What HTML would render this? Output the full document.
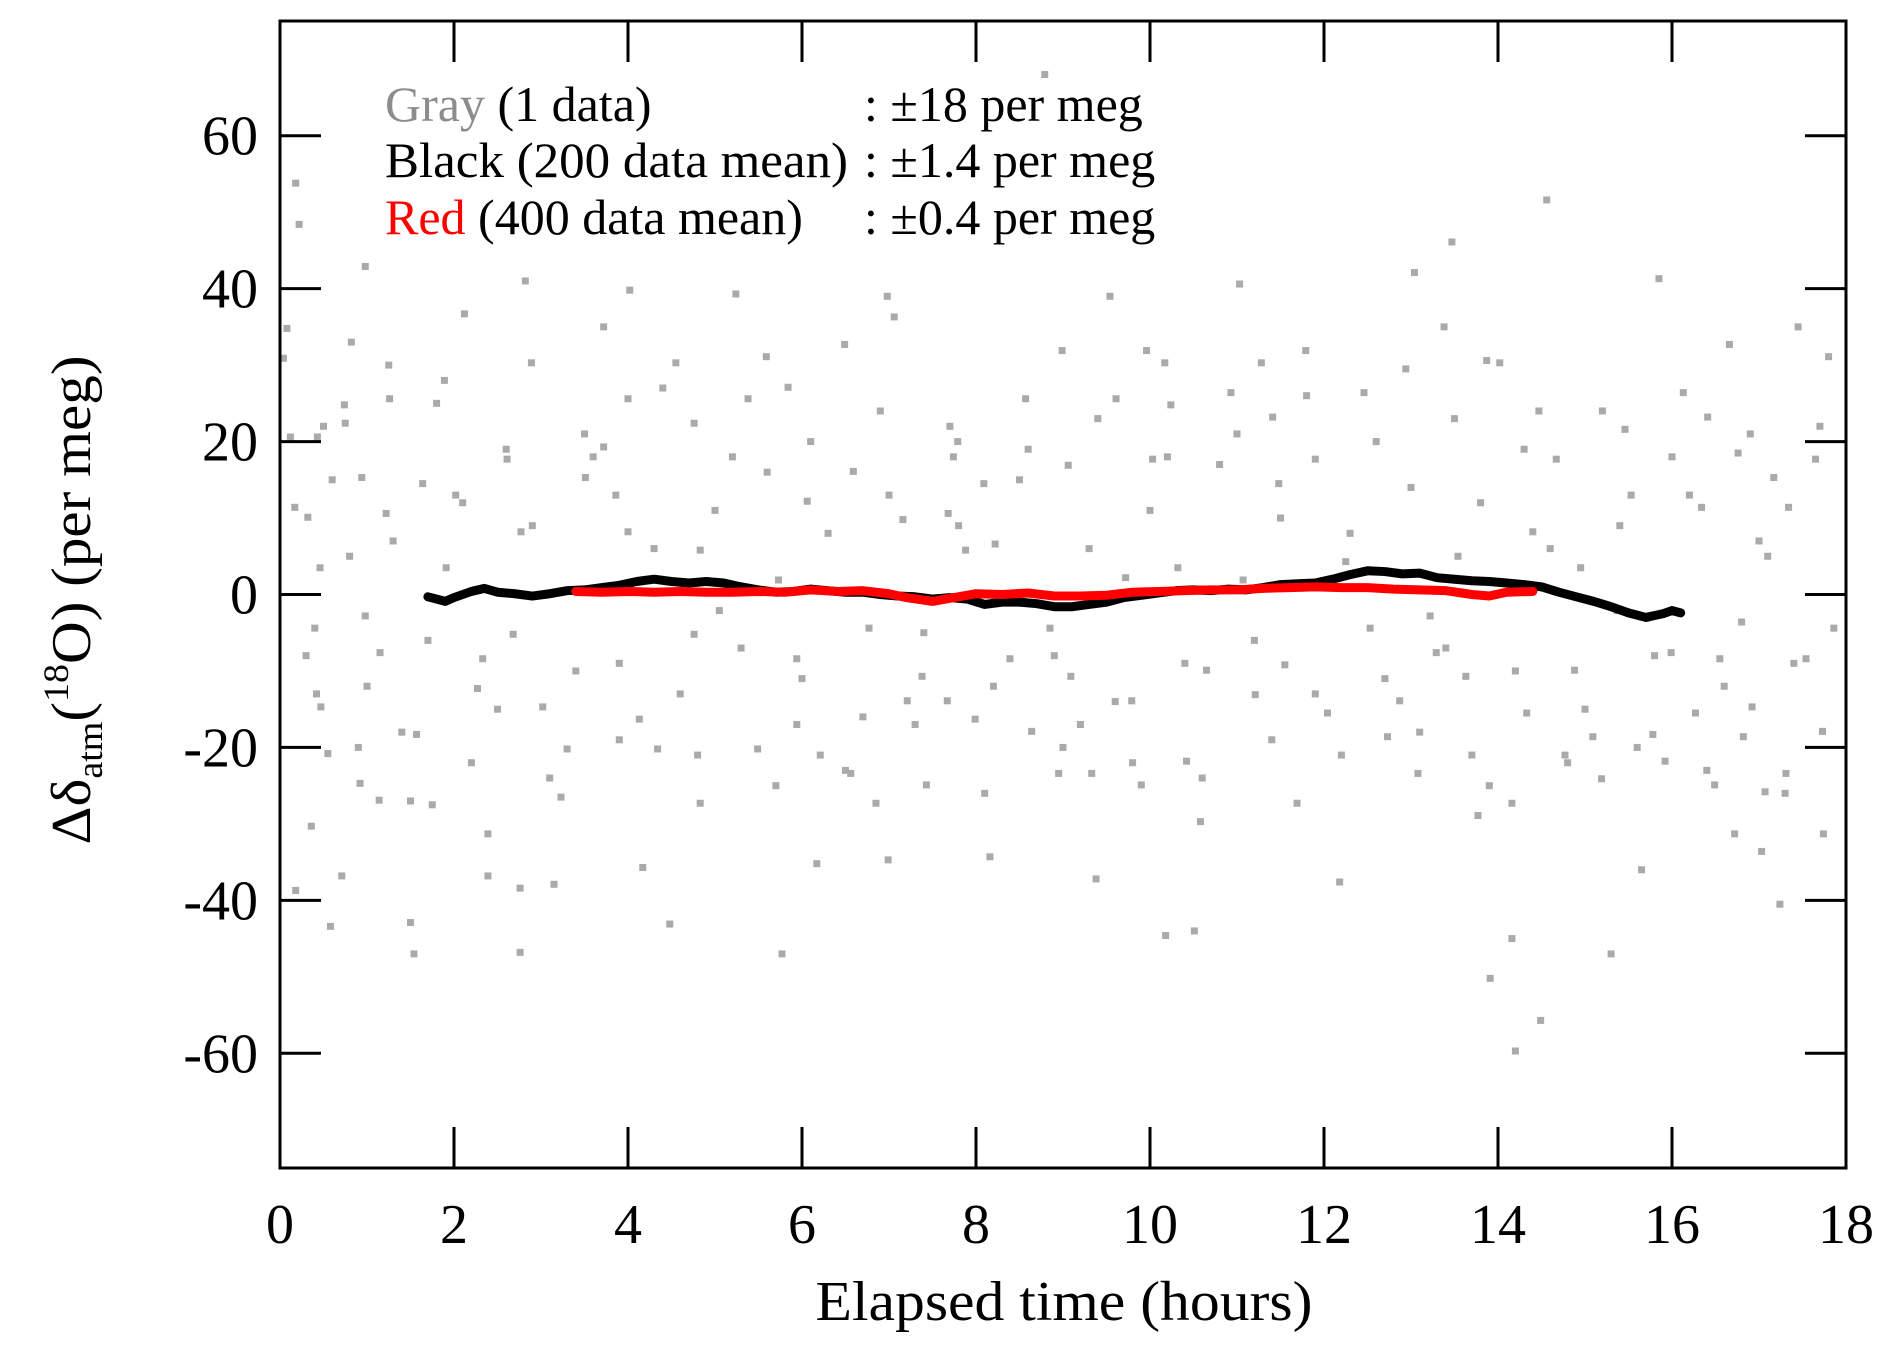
<!DOCTYPE html>
<html><head><meta charset="utf-8"><style>
html,body{margin:0;padding:0;background:#fff}
svg{display:block}
text{font-family:"Liberation Serif","Times New Roman",serif;fill:#000}
</style></head><body>
<svg id="chart" width="1892" height="1366" viewBox="0 0 1892 1366" xmlns="http://www.w3.org/2000/svg">
<g id="dots"></g>
<g id="lines"></g>
<g id="axes"></g>
<g font-size="50">
<text x="385" y="121"><tspan fill="#8c8c8c">Gray</tspan> (1 data)</text>
<text x="864" y="121">: ±18 per meg</text>
<text x="385" y="177" textLength="463" lengthAdjust="spacingAndGlyphs">Black (200 data mean)</text>
<text x="864" y="177">: ±1.4 per meg</text>
<text x="385" y="234"><tspan fill="#ff0000">Red</tspan> (400 data mean)</text>
<text x="864" y="234">: ±0.4 per meg</text>
</g>
<text x="1064" y="1320" font-size="56" text-anchor="middle" textLength="497" lengthAdjust="spacingAndGlyphs">Elapsed time  (hours)</text>
<text transform="translate(90,600) rotate(-90)" font-size="56" text-anchor="middle" textLength="489" lengthAdjust="spacingAndGlyphs">Δδ<tspan font-size="36" dy="12">atm</tspan><tspan dy="-12">(</tspan><tspan font-size="36" dy="-22">18</tspan><tspan dy="22">O)  (per meg)</tspan></text>
</svg>
<script>
const xTicks=[0,2,4,6,8,10,12,14,16,18];
const yTicks=[-60,-40,-20,0,20,40,60];
const grayX=[0.18,0.22,0.08,0.04,0.12,0.43,0.17,0.32,0.46,0.4,0.42,0.47,0.55,0.36,0.18,0.58,0.71,0.98,0.82,1.25,1.26,0.74,0.75,0.94,1.22,0.98,0.8,1.15,0.92,1.14,1.5,1.5,1.54,1.75,1.57,1.64,2.12,1.89,2.02,1.91,2.33,2.27,2.39,2.39,2.76,2.76,3.15,2.82,2.89,2.61,2.77,2.68,3.02,3.3,3.23,3.51,3.72,3.72,3.86,4,4.02,4.0,4.13,4.17,4.48,4.34,4.55,4.76,4.83,4.76,4.83,5.05,5.24,5.38,5.49,5.59,5.73,5.77,5.84,5.94,5.94,6.06,6.21,6.17,6.49,6.59,6.56,6.77,6.85,6.98,7.06,6.99,7.16,7.21,7.38,7.43,7.68,7.67,7.74,7.79,7.88,7.99,8.16,8.09,8.22,8.39,8.57,8.64,8.79,8.85,8.95,8.99,9.06,9.09,9.2,9.33,9.38,9.54,9.61,9.72,9.79,9.9,9.96,10.03,10.17,10.18,10.24,10.32,10.42,10.51,10.58,10.65,10.93,11.03,11.07,11.21,11.28,11.41,11.48,11.55,11.69,11.79,11.9,12.04,12.18,12.25,12.46,12.53,12.73,12.87,12.94,13.04,13.08,13.22,13.29,13.38,13.47,13.54,13.63,13.7,13.77,13.87,13.91,14.02,14.16,14.16,14.2,14.33,14.4,14.47,14.49,14.56,14.67,14.77,14.88,14.95,15.09,15.19,15.3,15.37,15.46,15.53,15.65,15.78,15.85,15.92,15.99,16.13,16.27,16.34,16.41,16.55,16.66,16.72,16.8,16.76,16.82,17.03,17.1,17.17,17.24,17.31,17.34,17.45,17.54,17.65,17.73,17.8,17.86,17.74,17.07,16.92,16.49,
0.3,0.6,1.0,1.3,1.7,2.1,2.5,2.9,3.4,3.6,3.9,4.3,4.6,5.0,5.3,5.6,6.0,6.3,6.7,7.0,7.4,7.8,8.2,8.5,8.9,9.3,9.6,10.0,10.4,10.8,11.2,11.5,11.9,12.3,12.7,13.0,13.4,13.8,14.2,14.6,15.0,15.4,15.8,16.2,16.6,17.0,17.4,
0.5,0.9,1.4,1.8,2.2,2.6,3.1,3.5,3.9,4.4,4.8,5.2,5.7,6.1,6.5,6.9,7.3,7.7,8.1,8.6,9.0,9.4,9.8,10.2,10.6,11.0,11.4,11.8,12.2,12.6,13.1,13.5,13.9,14.3,14.8,15.2,15.6,16.0,16.4,16.9,17.3,17.7];
const grayY=[53.8,48.4,34.8,30.9,20.6,20.6,11.4,10.1,3.5,-4.4,-13,-14.7,-20.8,-30.3,-38.7,-43.4,-36.8,42.9,33,30,25.6,24.8,22.4,15.3,10.6,-2.8,5,-7.6,-24.7,-26.9,-27,-42.9,-47,-27.5,-18.3,14.5,36.7,28,13,3.5,-8.4,-12.3,-31.3,-36.8,-38.4,-46.8,-37.9,41,30.3,17.7,8.2,-5.2,-14.7,-20.2,-26.5,15.3,35,19.3,13,25.6,39.8,8.2,-16.3,-35.7,-43.1,-20.2,30.3,22.4,5.8,-5.2,-27.3,-2.1,39.3,25.6,-20.2,31.1,1.9,-47,27.1,-8.4,-17,12.2,-21,-35.2,32.7,16.1,-23.4,-4.4,-27.3,39,36.3,-34.7,9.8,-13.9,-10.7,-24.9,10.6,-13.9,18,20,5.8,-16.3,-34.3,14.5,6.6,-8.4,25.6,-17.9,68,-4.4,-23.4,31.9,16.9,-10.7,-17,-23.4,-37.2,39,25.6,2.2,-13.9,-24.9,31.9,17.7,30.3,-44.6,24.8,3.5,-21.8,-44,-29.7,-9.9,26.4,40.6,1.9,-13.1,30.3,23.2,14.5,-9.2,-27.3,31.9,17.7,-15.5,-37.6,4.3,26.4,-4.4,-18.6,-13.9,29.5,42.1,-23.4,-2.8,-7.6,35,46.1,5,-10.7,-21,-28.9,30.6,-50.2,30.3,-27.3,-45,-59.7,-15.5,8.2,24,-55.7,51.6,17.7,-21,-9.9,3.5,-18.6,-24.1,-47,-2.1,21.6,13,-36,-18.3,41.3,-21.8,-7.6,26.4,-15.5,11.4,23.2,-8.4,32.7,-31.3,-3.6,18.5,-18.6,-33.6,5,15.3,-40.5,-23.4,11.4,35,-8.4,17.7,-17.9,31.1,-4.4,-31.3,-25.8,-14.7,-24.9,
-8,15,-12,7,-6,12,-15,9,-10,18,-9,6,-13,11,-7,16,-11,8,-16,13,-5,9,-12,15,-8,6,-14,11,-9,17,-6,10,-13,8,-11,14,-7,12,-10,6,-15,9,-8,13,-12,7,-9,
22,-20,-18,25,-22,19,-24,21,-19,27,-21,18,-25,20,-23,24,-17,22,-26,19,-20,23,-22,18,-24,21,-19,26,-21,20,-18,23,-25,19,-22,24,-20,18,-23,21,-26,22];
const blackX=[1.7,1.9,2.0,2.2,2.35,2.5,2.7,2.9,3.1,3.3,3.5,3.7,3.9,4.1,4.3,4.5,4.7,4.9,5.1,5.3,5.5,5.7,5.9,6.1,6.3,6.5,6.7,6.9,7.1,7.3,7.5,7.7,7.9,8.1,8.3,8.5,8.7,8.9,9.1,9.3,9.5,9.7,9.9,10.1,10.3,10.5,10.7,10.9,11.1,11.3,11.5,11.7,11.9,12.1,12.3,12.5,12.7,12.9,13.1,13.3,13.5,13.7,13.9,14.1,14.3,14.5,14.7,14.9,15.1,15.3,15.5,15.7,15.9,16.0,16.1];
const blackY=[-0.3,-0.9,-0.4,0.4,0.8,0.3,0.1,-0.2,0.1,0.5,0.6,0.9,1.2,1.7,2.0,1.7,1.5,1.7,1.5,1.0,0.6,0.3,0.4,0.7,0.5,0.3,0.3,0,-0.2,-0.3,-0.6,-0.4,-0.6,-1.3,-1.0,-1.0,-1.2,-1.6,-1.6,-1.3,-1.0,-0.4,-0.1,0.2,0.5,0.6,0.5,0.7,0.6,0.9,1.3,1.4,1.5,2.0,2.6,3.1,3.0,2.7,2.8,2.2,2.0,1.8,1.7,1.5,1.3,1.0,0.3,-0.3,-0.9,-1.6,-2.4,-3.0,-2.5,-2.1,-2.4];
const redX=[3.4,3.7,4.0,4.3,4.6,4.9,5.2,5.5,5.8,6.1,6.4,6.7,7.0,7.2,7.5,7.7,8.0,8.3,8.6,8.9,9.2,9.5,9.8,10.1,10.4,10.7,11.0,11.3,11.6,11.9,12.2,12.5,12.8,13.1,13.4,13.7,13.9,14.1,14.4];
const redY=[0.4,0.3,0.4,0.3,0.4,0.3,0.3,0.4,0.3,0.6,0.4,0.5,0.1,-0.4,-0.9,-0.5,0.1,0.0,0.2,-0.2,-0.2,-0.1,0.3,0.4,0.5,0.6,0.6,0.8,0.9,1.0,0.9,0.9,0.7,0.6,0.5,0.0,-0.2,0.3,0.4];

const L=280,R=1846,T=21,B=1168,XMIN=0,XMAX=18,YMIN=-75,YMAX=75;
const sx=v=>L+(v-XMIN)/(XMAX-XMIN)*(R-L);
const sy=v=>B-(v-YMIN)/(YMAX-YMIN)*(B-T);
const NS='http://www.w3.org/2000/svg';
function mk(tag,parent){const e=document.createElementNS(NS,tag);parent.appendChild(e);return e;}
const dots=document.getElementById('dots');
for(let i=0;i<grayX.length;i++){
  const r=mk('rect',dots);
  
  
  r.setAttribute('x',sx(grayX[i])-3.5);r.setAttribute('y',sy(grayY[i])-3.5);
  r.setAttribute('width',7);r.setAttribute('height',7);r.setAttribute('fill','#aaaaaa');
}
const lines=document.getElementById('lines');
function series(xs,ys,color,name){
  const p=mk('polyline',lines);
  
  
  p.setAttribute('points',xs.map((x,i)=>sx(x)+','+sy(ys[i])).join(' '));
  p.setAttribute('fill','none');p.setAttribute('stroke',color);p.setAttribute('stroke-width',9);
  p.setAttribute('stroke-linejoin','round');p.setAttribute('stroke-linecap','round');
}
series(blackX,blackY,'#000','black-line');
series(redX,redY,'#ff0000','red-line');
const axes=document.getElementById('axes');
const frame=mk('rect',axes);


frame.setAttribute('x',L);frame.setAttribute('y',T);frame.setAttribute('width',R-L);frame.setAttribute('height',B-T);
frame.setAttribute('fill','none');frame.setAttribute('stroke','#000');frame.setAttribute('stroke-width',3);
const TL=41;
xTicks.forEach(v=>{
  const x=sx(v);
  if(v>XMIN&&v<XMAX){
    [[B,B-TL],[T,T+TL]].forEach(([a,b])=>{const l=mk('line',axes);
      
      
      l.setAttribute('x1',x);l.setAttribute('x2',x);l.setAttribute('y1',a);l.setAttribute('y2',b);l.setAttribute('stroke','#000');l.setAttribute('stroke-width',3);});
  }
  const t=mk('text',axes);
  
  
  t.setAttribute('x',x);t.setAttribute('y',1243);t.setAttribute('font-size','56');t.setAttribute('text-anchor','middle');t.textContent=v;
});
yTicks.forEach(v=>{
  const y=sy(v);
  [[L,L+TL],[R,R-TL]].forEach(([a,b])=>{const l=mk('line',axes);
    
    
    l.setAttribute('x1',a);l.setAttribute('x2',b);l.setAttribute('y1',y);l.setAttribute('y2',y);l.setAttribute('stroke','#000');l.setAttribute('stroke-width',3);});
  const t=mk('text',axes);
  
  
  t.setAttribute('x',258);t.setAttribute('y',y+19);t.setAttribute('font-size','56');t.setAttribute('text-anchor','end');t.textContent=v;
});
</script>
</body></html>
